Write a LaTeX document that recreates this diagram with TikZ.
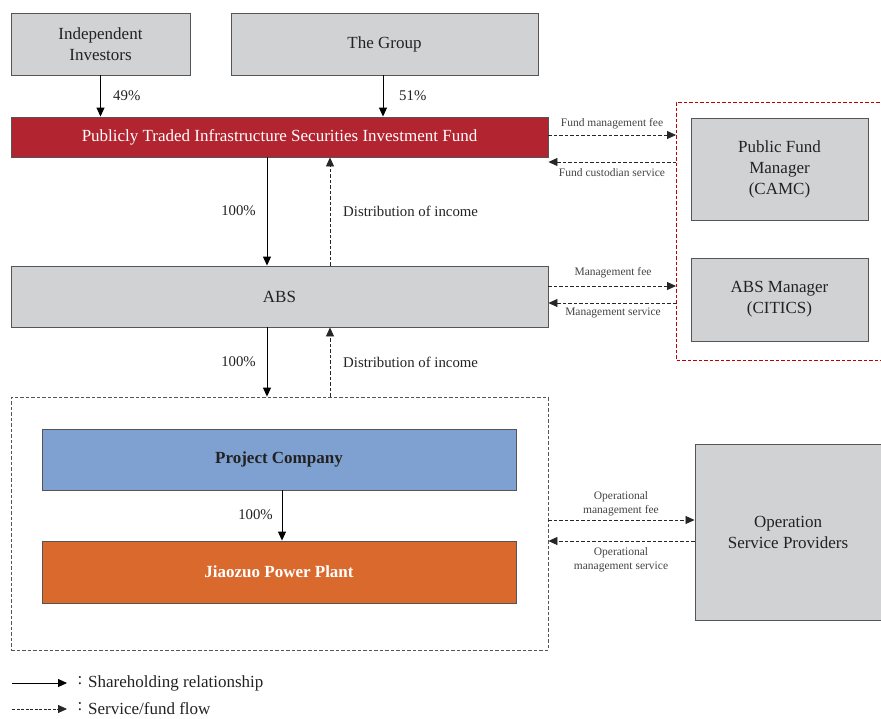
\documentclass[tikz,border=0pt]{standalone}
\usepackage{fontspec}
\setmainfont{Liberation Serif}
\usetikzlibrary{arrows.meta}
\definecolor{boxgray}{HTML}{D1D2D4}
\definecolor{edgegray}{HTML}{555555}
\definecolor{fundred}{HTML}{B2242F}
\definecolor{projblue}{HTML}{7FA1D1}
\definecolor{plantorange}{HTML}{DA692D}
\definecolor{txt}{HTML}{222222}
\tikzset{
  box/.style={draw=edgegray, line width=0.9pt, fill=boxgray, align=center, text=txt, font=\fontsize{17}{21}\selectfont, inner sep=0pt},
  shareline/.style={draw=black, line width=0.9pt, -{Triangle[length=9pt,width=8pt]}},
  flowline/.style={draw=black!85, line width=0.8pt, dash pattern=on 3.5pt off 2pt, -{Triangle[length=9pt,width=8pt]}},
  pct/.style={font=\fontsize{14.8}{17}\selectfont, text=txt, inner sep=0pt},
  sidelbl/.style={font=\fontsize{11.5}{13}\selectfont, text=txt!85, inner sep=0pt, align=center},
  legtxt/.style={font=\fontsize{17}{20}\selectfont, text=txt, inner sep=0pt},
}
\begin{document}
\begin{tikzpicture}[x=1pt,y=-1pt]
\useasboundingbox (0,0) rectangle (881,718);
% top boxes
\node[box, minimum width=179pt, minimum height=62pt] (ii) at (100.5,44) {Independent\\Investors};
\node[box, minimum width=307pt, minimum height=62pt] (grp) at (384.5,44) {The Group};
\node[box, fill=fundred, text=white, minimum width=537pt, minimum height=40pt] (fund) at (279.5,137) {Publicly Traded Infrastructure Securities Investment Fund};
\node[box, minimum width=537pt, minimum height=61pt] (abs) at (279.5,296.5) {ABS};
\node[draw=edgegray, line width=0.8pt, dash pattern=on 3.5pt off 2pt, minimum width=537pt, minimum height=253pt, inner sep=0pt] (outer) at (279.5,523.5) {};
\node[box, fill=projblue, font=\fontsize{17}{21}\selectfont\bfseries, minimum width=474pt, minimum height=61pt] (proj) at (279,459.5) {Project Company};
\node[box, fill=plantorange, text=white, font=\fontsize{17}{21}\selectfont\bfseries, minimum width=474pt, minimum height=62pt] (plant) at (279,572) {Jiaozuo Power Plant};
% right boxes
\node[box, minimum width=177pt, minimum height=102pt] (pfm) at (779.5,169) {Public Fund\\Manager\\(CAMC)};
\node[box, minimum width=177pt, minimum height=83pt] (absm) at (779.5,299.5) {ABS Manager\\(CITICS)};
\node[box, minimum width=186pt, minimum height=176pt] (osp) at (788,532) {Operation\\Service Providers};
% red dashed region
\coordinate (rtl) at (676,102);
\coordinate (rtr) at (885,102);
\coordinate (rbl) at (676,360);
\coordinate (rbr) at (885,360);
\draw[draw=red!75!black, line width=0.8pt, dash pattern=on 3.5pt off 2pt] (rtr) -- (rtl) -- (rbl) -- (rbr);
% shareholding arrows
\draw[shareline] (ii.south) -- (ii.south |- fund.north);
\node[pct, anchor=west] (p49) at (113,96) {49\%};
\draw[shareline] ([xshift=-1.5pt]grp.south) -- ([xshift=-1.5pt]grp.south |- fund.north);
\node[pct, anchor=west] (p51) at (399,96) {51\%};
\draw[shareline] ([xshift=-12.5pt]fund.south) -- ([xshift=-12.5pt]abs.north);
\node[pct, anchor=east] (p100a) at (256,211) {100\%};
\draw[flowline] ([xshift=50.5pt]abs.north) -- ([xshift=50.5pt]fund.south);
\node[pct, anchor=west] (dist1) at (343,211) {Distribution of income};
\draw[shareline] ([xshift=-12.5pt]abs.south) -- ([xshift=-12.5pt]outer.north);
\node[pct, anchor=east] (p100b) at (256,362) {100\%};
\draw[flowline] ([xshift=50.5pt]outer.north) -- ([xshift=50.5pt]abs.south);
\node[pct, anchor=west] (dist2) at (343,362) {Distribution of income};
\draw[shareline] ([xshift=3pt]proj.south) -- ([xshift=3pt]plant.north);
\node[pct, anchor=east] (p100c) at (273,515) {100\%};
% service flows
\draw[flowline] (fund.east |- 0,135) -- (rtl |- 0,135);
\node[sidelbl] (l1) at (612,124) {Fund management fee};
\draw[flowline] (rtl |- 0,162) -- (fund.east |- 0,162);
\node[sidelbl] (l2) at (612,172.5) {Fund custodian service};
\draw[flowline] (abs.east |- 0,286) -- (rtl |- 0,286);
\node[sidelbl] (l3) at (613,273) {Management fee};
\draw[flowline] (rtl |- 0,303) -- (abs.east |- 0,303);
\node[sidelbl] (l4) at (613,312.5) {Management service};
\draw[flowline] (outer.east |- 0,520) -- (osp.west |- 0,520);
\node[sidelbl, font=\fontsize{11.5}{14.5}\selectfont] (l5) at (621,503.5) {Operational\\management fee};
\draw[flowline] (osp.west |- 0,541) -- (outer.east |- 0,541);
\node[sidelbl, font=\fontsize{11.5}{14.5}\selectfont] (l6) at (621,559.5) {Operational\\management service};
% legend
\coordinate (lg1a) at (12,683);
\coordinate (lg1b) at (67,683);
\coordinate (lg2a) at (12,709);
\coordinate (lg2b) at (67,709);
\draw[shareline] (lg1a) -- (lg1b);
\draw[flowline, dash pattern=on 3pt off 1.5pt] (lg2a) -- (lg2b);
\node[legtxt] (c1) at (80,681) {:};
\node[legtxt] (c2) at (80,707) {:};
\node[legtxt, anchor=west] (t1) at (88,683) {Shareholding relationship};
\node[legtxt, anchor=west] (t2) at (88,708.5) {Service/fund flow};
\end{tikzpicture}
\end{document}
